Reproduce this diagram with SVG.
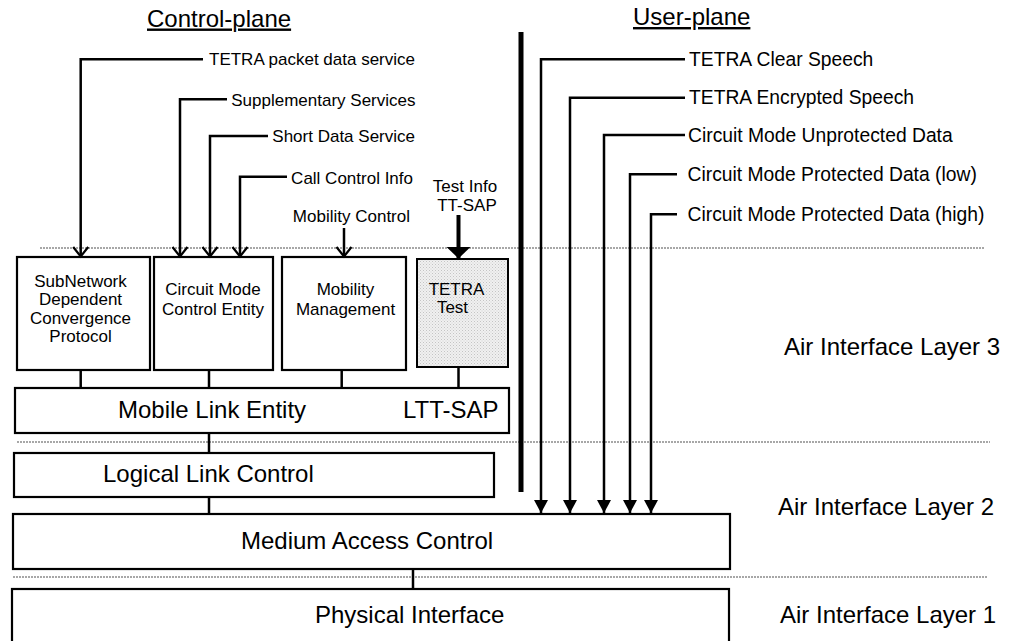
<svg xmlns="http://www.w3.org/2000/svg" width="1010" height="641" viewBox="0 0 1010 641">
<style>
text{font-family:"Liberation Sans",Arial,sans-serif;fill:#000}
.big{font-size:24px}
.lab{font-size:17px}
.ulab{font-size:19.3px}
.box{fill:#fff;stroke:#000;stroke-width:2.2}
.conn{fill:none;stroke:#000;stroke-width:2.5}
.sep{fill:none;stroke:#8a8a8a;stroke-width:1.3;stroke-dasharray:2 1}
.mid{text-anchor:middle}
</style>
<defs>
<marker id="openV" markerUnits="userSpaceOnUse" viewBox="-2 -10 14 20" markerWidth="14" markerHeight="20" refX="9.5" refY="0" orient="auto">
<path d="M0,-7.5 L9.5,0 L0,7.5" fill="none" stroke="#000" stroke-width="2.2"/>
</marker>
<marker id="fillS" markerUnits="userSpaceOnUse" viewBox="0 -8 14 16" markerWidth="14" markerHeight="16" refX="13" refY="0" orient="auto">
<path d="M0,-7 L13,0 L0,7 Z" fill="#000"/>
</marker>
<marker id="fillB" markerUnits="userSpaceOnUse" viewBox="0 -13 13 26" markerWidth="13" markerHeight="26" refX="12" refY="0" orient="auto">
<path d="M0,-12.5 L12,0 L0,12.5 Z" fill="#000"/>
</marker>
<pattern id="stipple" patternUnits="userSpaceOnUse" width="3" height="3">
<rect width="3" height="3" fill="#f0f0f0"/>
<rect x="0" y="0" width="1" height="1" fill="#c4c4c4"/>
<rect x="1.5" y="1.5" width="1" height="1" fill="#d0d0d0"/>
</pattern>
</defs>

<g id="headings">
<text class="big" x="147" y="26.5" text-decoration="underline">Control-plane</text>
<text class="big" x="633" y="25" text-decoration="underline">User-plane</text>
</g>

<g id="layer-separators">
<line class="sep" x1="40" y1="248" x2="985" y2="248"/>
<line class="sep" x1="17" y1="442" x2="990" y2="442"/>
<line class="sep" x1="13" y1="577" x2="987" y2="577"/>
</g>

<g id="layer-labels">
<text class="big" x="784" y="355">Air Interface Layer 3</text>
<text class="big" x="778" y="515">Air Interface Layer 2</text>
<text class="big" x="780" y="623">Air Interface Layer 1</text>
</g>

<g id="plane-separator">
<line x1="521" y1="32" x2="521" y2="492" stroke="#000" stroke-width="5"/>
</g>

<g id="sndcp">
<rect class="box" x="17" y="257" width="133" height="113"/>
<text class="lab mid" x="80.5" y="286.5">SubNetwork</text>
<text class="lab mid" x="80.5" y="305">Dependent</text>
<text class="lab mid" x="80.5" y="323.5">Convergence</text>
<text class="lab mid" x="80.5" y="342">Protocol</text>
</g>
<g id="cmce">
<rect class="box" x="154" y="257" width="119" height="113"/>
<text class="lab mid" x="213" y="295">Circuit Mode</text>
<text class="lab mid" x="213" y="315">Control Entity</text>
</g>
<g id="mm">
<rect class="box" x="282" y="257" width="124" height="113"/>
<text class="lab mid" x="345.5" y="295">Mobility</text>
<text class="lab mid" x="345.5" y="315">Management</text>
</g>
<g id="tetra-test">
<rect x="417" y="259" width="91" height="108" fill="url(#stipple)" stroke="#000" stroke-width="2"/>
<text class="lab mid" x="456.5" y="295">TETRA</text>
<text class="lab mid" x="452.5" y="313">Test</text>
</g>
<g id="mle">
<rect class="box" x="15" y="388" width="494" height="45"/>
<text class="big" x="118" y="418">Mobile Link Entity</text>
<text class="big" x="403" y="418">LTT-SAP</text>
</g>
<g id="llc">
<rect class="box" x="14" y="453" width="480" height="44"/>
<text class="big" x="103" y="482">Logical Link Control</text>
</g>
<g id="mac">
<rect class="box" x="13" y="514" width="717" height="55"/>
<text class="big" x="241" y="548.5">Medium Access Control</text>
</g>
<g id="phy">
<rect class="box" x="12" y="589" width="717" height="62"/>
<text class="big" x="315" y="623">Physical Interface</text>
</g>

<g id="service-labels">
<text class="lab" x="415" y="65" text-anchor="end">TETRA packet data service</text>
<text class="lab" x="415.5" y="105.5" text-anchor="end">Supplementary Services</text>
<text class="lab" x="415" y="142" text-anchor="end">Short Data Service</text>
<text class="lab" x="413" y="183.5" text-anchor="end">Call Control Info</text>
<text class="lab" x="410" y="222" text-anchor="end">Mobility Control</text>
<text class="lab mid" x="465" y="192">Test Info</text>
<text class="lab mid" x="467" y="210.5">TT-SAP</text>
<text class="ulab" x="689" y="66">TETRA Clear Speech</text>
<text class="ulab" x="689" y="103.5">TETRA Encrypted Speech</text>
<text class="ulab" x="688" y="141.5">Circuit Mode Unprotected Data</text>
<text class="ulab" x="687.5" y="181">Circuit Mode Protected Data (low)</text>
<text class="ulab" x="687.5" y="220.5">Circuit Mode Protected Data (high)</text>
</g>

<g id="connectors">
<path class="conn" d="M203,59.3 H80.7 V256.5" marker-end="url(#openV)"/>
<path class="conn" d="M227,99.3 H180 V256.5" marker-end="url(#openV)"/>
<path class="conn" d="M268,136 H210 V256.5" marker-end="url(#openV)"/>
<path class="conn" d="M287,176.7 H240 V256.5" marker-end="url(#openV)"/>
<path class="conn" d="M344,228 V256.5" marker-end="url(#openV)"/>
<path d="M458.5,215 V258.5" fill="none" stroke="#000" stroke-width="4" marker-end="url(#fillB)"/>

<path class="conn" d="M685,59.3 H541 V513" marker-end="url(#fillS)"/>
<path class="conn" d="M685,97.7 H570 V513" marker-end="url(#fillS)"/>
<path class="conn" d="M685,135 H604 V513" marker-end="url(#fillS)"/>
<path class="conn" d="M677,174.3 H630 V513" marker-end="url(#fillS)"/>
<path class="conn" d="M677,214.3 H651 V513" marker-end="url(#fillS)"/>

<line class="conn" x1="80.7" y1="370" x2="80.7" y2="388"/>
<line class="conn" x1="209" y1="370" x2="209" y2="388"/>
<line class="conn" x1="341.7" y1="370" x2="341.7" y2="388"/>
<line class="conn" x1="458.5" y1="367" x2="458.5" y2="388"/>
<line class="conn" x1="209" y1="433" x2="209" y2="453"/>
<line class="conn" x1="209" y1="497" x2="209" y2="514"/>
<line class="conn" x1="413" y1="569" x2="413" y2="589"/>
</g>
</svg>
